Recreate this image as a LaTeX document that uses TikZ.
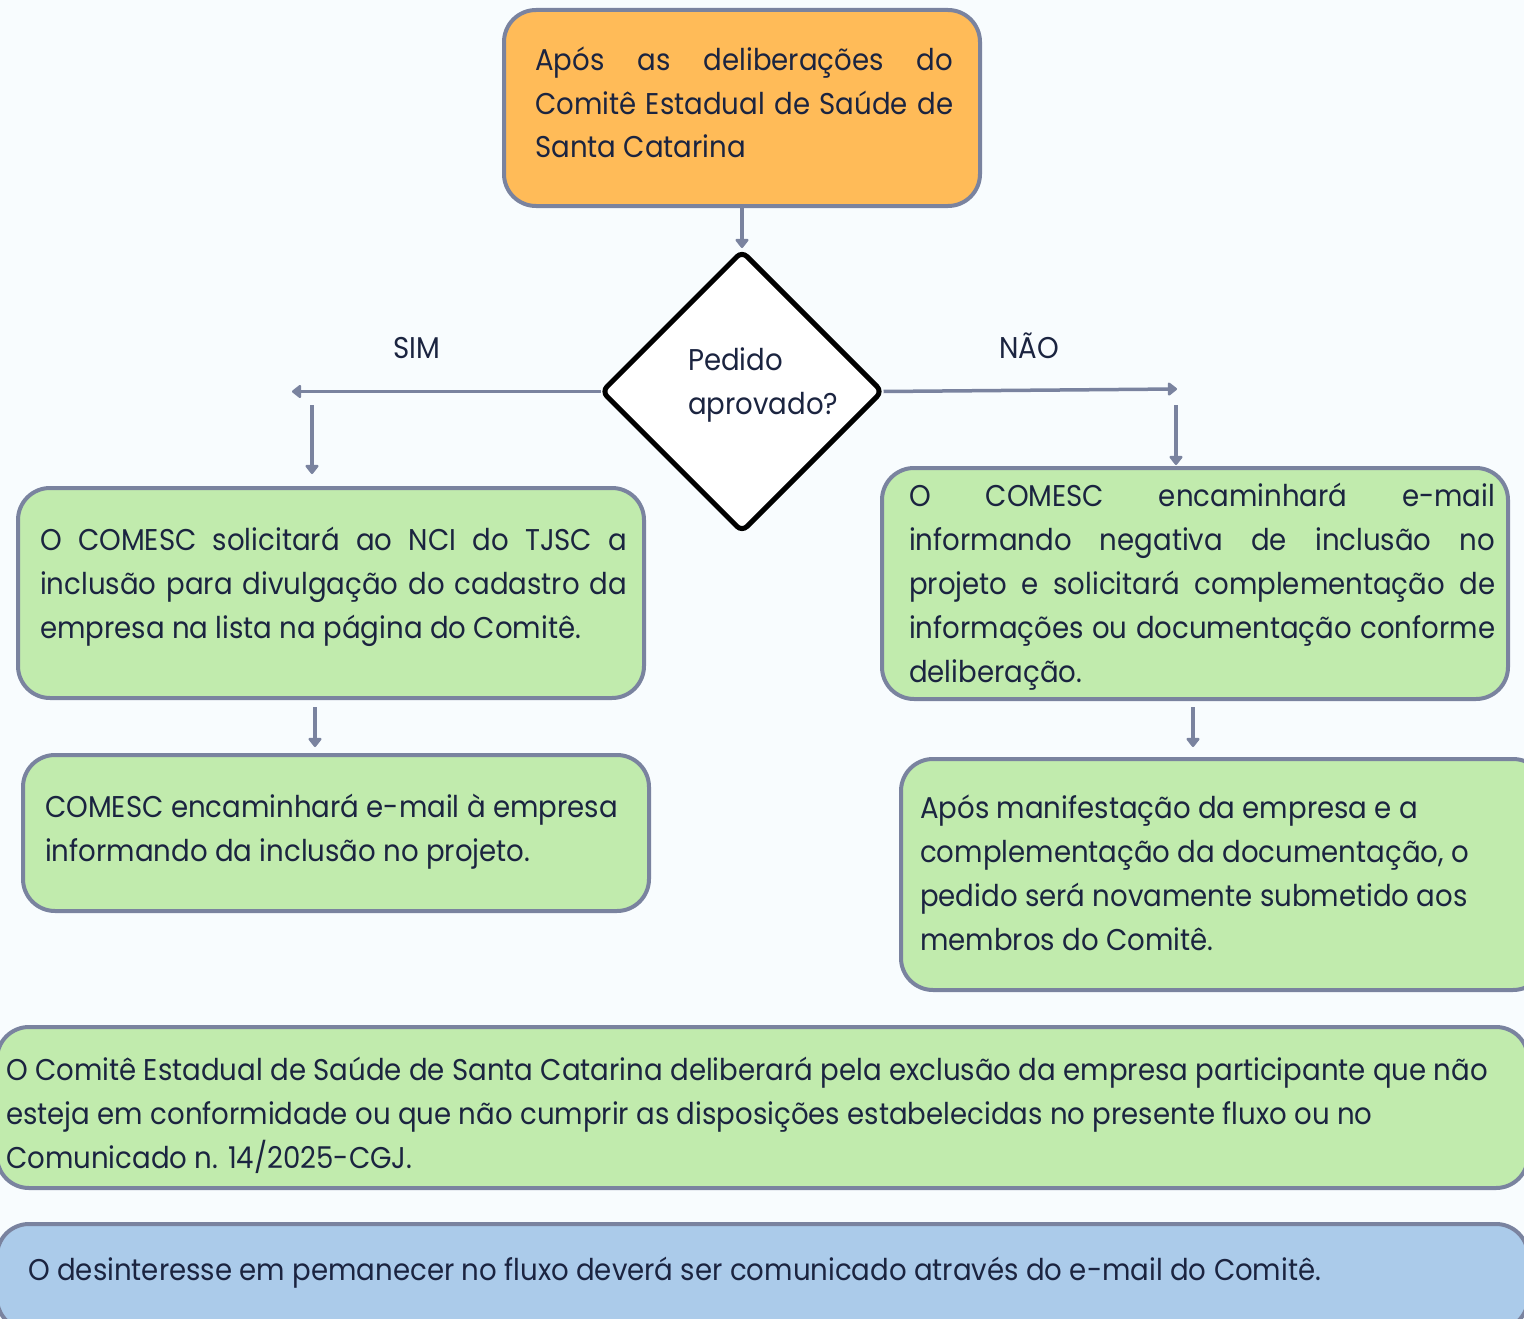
\documentclass[tikz,border=0pt]{standalone}
\usepackage{fontspec}
\setmainfont{Poppins}[FakeStretch=0.92]
\usetikzlibrary{arrows.meta,shapes.geometric}
\definecolor{bg}{HTML}{F8FCFE}
\definecolor{orangebox}{HTML}{FFBB58}
\definecolor{greenbox}{HTML}{C1EBAD}
\definecolor{bluebox}{HTML}{ABCBEA}
\definecolor{edgec}{HTML}{7A839F}
\definecolor{ink}{HTML}{1B2440}
\begin{document}
\begin{tikzpicture}[x=1pt,y=-1pt,
  box/.style={draw=edgec,line width=4pt,rounded corners=32pt,inner sep=0pt},
  txt/.style={anchor=base west,align=left,inner sep=0pt,text=ink,font=\fontsize{30}{44}\selectfont},
  arr/.style={draw=edgec,line width=3.5pt,-{Triangle[width=15pt,length=10pt,round]}},
]
\useasboundingbox (0,0) rectangle (1524,1319);
\fill[bg] (0,0) rectangle (1524,1319);
\clip (0,0) rectangle (1524,1319);

% boxes
\node[box,fill=orangebox,minimum width=476pt,minimum height=196pt] (top) at (742,108) {};
\node[draw=black,line width=5pt,shape=diamond,aspect=1,minimum size=282pt,inner sep=0pt,rounded corners=7pt,fill=white] (dia) at (742,391.5) {};
\node[box,fill=greenbox,minimum width=626pt,minimum height=210pt] (L1) at (331,593) {};
\node[box,fill=greenbox,minimum width=626pt,minimum height=156pt] (L2) at (336,833) {};
\node[box,fill=greenbox,minimum width=626pt,minimum height=231pt] (R1) at (1195,583.5) {};
\node[box,fill=greenbox,minimum width=644pt,minimum height=231pt] (R2) at (1223,874.5) {};
\node[box,fill=greenbox,minimum width=1531pt,minimum height=161pt] (B1) at (762.5,1107.5) {};
\node[box,fill=bluebox,minimum width=1531pt,minimum height=106pt] (B2) at (762.5,1277) {};

% connectors
\draw[arr] (top.south) -- (top.south |- dia.north);
\coordinate (sl) at (292,391.5);
\draw[arr] ([xshift=2pt]dia.west) -- (sl);
\coordinate (s1) at (312,405);
\coordinate (s2) at (312,474);
\draw[arr] (s1) -- (s2);
\coordinate (nr) at (1177,389);
\draw[arr] ([xshift=-2pt]dia.east) -- (nr);
\coordinate (n1) at (1176,405);
\coordinate (n2) at (1176,465);
\draw[arr] (n1) -- (n2);
\coordinate (a1) at (315,707);
\coordinate (a2) at (315,747);
\draw[arr] (a1) -- (a2);
\coordinate (b1) at (1193,707);
\coordinate (b2) at (1193,747);
\draw[arr] (b1) -- (b2);

% texts (base anchor = baseline of last line)
\node[txt] (t0) at (535,158) {\makebox[418pt][s]{Após as deliberações do}\\\makebox[418pt][s]{Comitê Estadual de Saúde de}\\Santa Catarina};
\node[txt] (tq) at (688,414) {Pedido\\aprovado?};
\node[txt] (sim) at (393,358) {SIM};
\node[txt] (nao) at (999,358) {NÃO};
\node[txt] (tL1) at (40,638) {\makebox[587pt][s]{O COMESC solicitará ao NCI do TJSC a}\\\makebox[587pt][s]{inclusão para divulgação do cadastro da}\\empresa na lista na página do Comitê.};
\node[txt] (tL2) at (45,861) {COMESC encaminhará e-mail à empresa\\informando da inclusão no projeto.};
\node[txt] (tR1) at (909,682) {\makebox[586pt][s]{O COMESC encaminhará e-mail}\\\makebox[586pt][s]{informando negativa de inclusão no}\\\makebox[586pt][s]{projeto e solicitará complementação de}\\\makebox[586pt][s]{informações ou documentação conforme}\\deliberação.};
\node[txt] (tR2) at (920,950) {Após manifestação da empresa e a\\complementação da documentação, o\\pedido será novamente submetido aos\\membros do Comitê.};
\node[txt] (tB1) at (6,1168) {O Comitê Estadual de Saúde de Santa Catarina deliberará pela exclusão da empresa participante que não\\esteja em conformidade ou que não cumprir as disposições estabelecidas no presente fluxo ou no\\Comunicado n. 14/2025-CGJ.};
\node[txt] (tB2) at (28,1280) {O desinteresse em pemanecer no fluxo deverá ser comunicado através do e-mail do Comitê.};
\end{tikzpicture}
\end{document}
